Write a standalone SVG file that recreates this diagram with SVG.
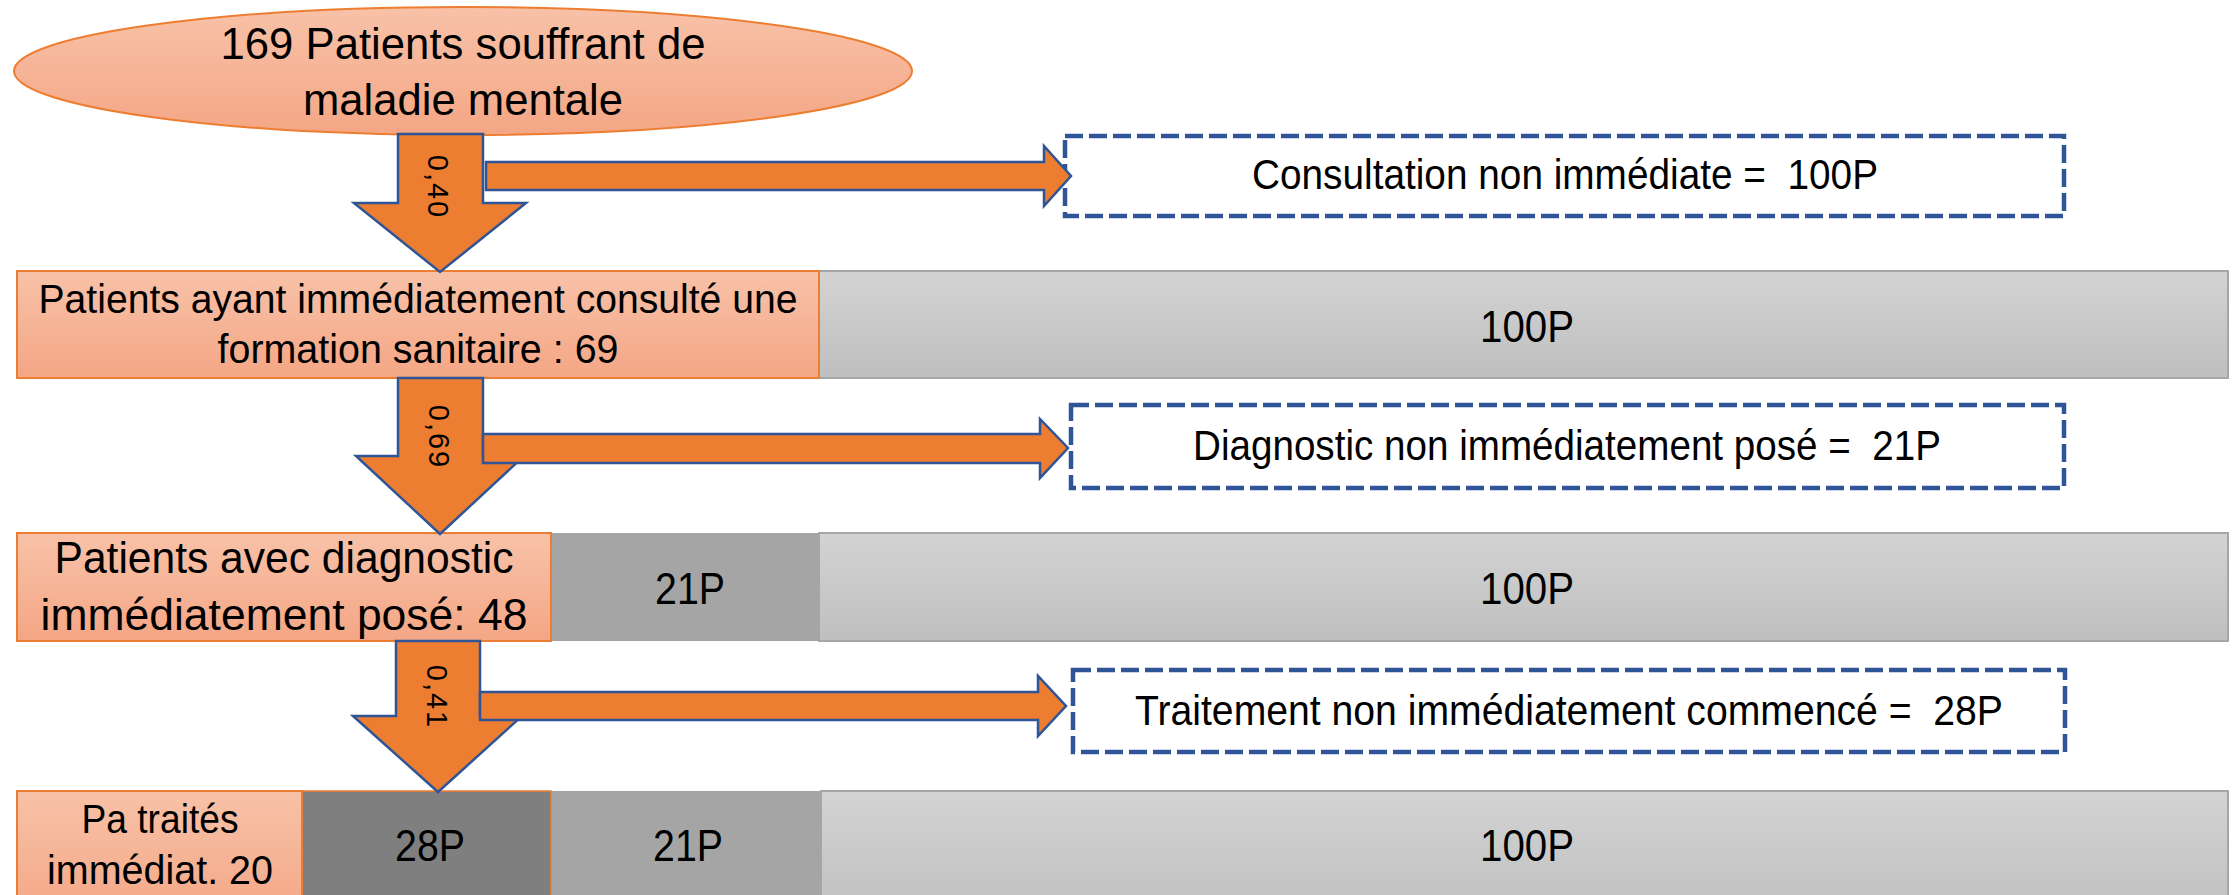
<svg xmlns="http://www.w3.org/2000/svg" width="2234" height="895" viewBox="0 0 2234 895">
<defs>
<linearGradient id="gOr" x1="0" y1="0" x2="0" y2="1">
<stop offset="0" stop-color="#F8C2A8"/>
<stop offset="1" stop-color="#F4A685"/>
</linearGradient>
<linearGradient id="gGr" x1="0" y1="0" x2="0" y2="1">
<stop offset="0" stop-color="#D3D3D3"/>
<stop offset="1" stop-color="#BFBFBF"/>
</linearGradient>
<style>
text{font-family:"Liberation Sans",Arial,sans-serif;fill:#000;text-anchor:middle}
.or{fill:url(#gOr);stroke:#ED7D31;stroke-width:2}
.gr{fill:url(#gGr);stroke:#A6A6A6;stroke-width:2}
.g2{fill:#A5A5A5;stroke:none}
.g3{fill:#7F7F7F;stroke:#ED7D31;stroke-width:1.5}
.arr{fill:#ED7D31;stroke:#2F5597;stroke-width:2.5;stroke-linejoin:miter}
.dash{fill:#fff;stroke:#2F5597;stroke-width:4.5;stroke-dasharray:18 6}
.lab{font-size:29px;letter-spacing:2px;dominant-baseline:central}
.t40{font-size:40px}
.t44{font-size:44px}
.t42{font-size:42px}
</style>
</defs>

<g id="start">
<ellipse class="or" cx="463" cy="71" rx="449" ry="64"/>
<text class="t44" x="463" y="59" textLength="485" lengthAdjust="spacingAndGlyphs">169 Patients souffrant de</text>
<text class="t44" x="463" y="115" textLength="320" lengthAdjust="spacingAndGlyphs">maladie mentale</text>
</g>

<g id="row1">
<rect class="gr" x="819" y="271" width="1409" height="107"/>
<rect class="or" x="17" y="271" width="802" height="107"/>
<text class="t40" x="418" y="313" textLength="759" lengthAdjust="spacingAndGlyphs">Patients ayant immédiatement consulté une</text>
<text class="t40" x="418" y="363" textLength="401" lengthAdjust="spacingAndGlyphs">formation sanitaire : 69</text>
<text class="t44" x="1527" y="342" textLength="94" lengthAdjust="spacingAndGlyphs">100P</text>
</g>

<g id="row2">
<rect class="gr" x="819" y="533" width="1409" height="108"/>
<rect class="g2" x="551" y="533" width="268" height="108"/>
<rect class="or" x="17" y="533" width="534" height="108"/>
<text class="t44" x="284" y="573" textLength="459" lengthAdjust="spacingAndGlyphs">Patients avec diagnostic</text>
<text class="t44" x="284" y="630" textLength="487" lengthAdjust="spacingAndGlyphs">immédiatement posé: 48</text>
<text class="t44" x="690" y="604" textLength="70" lengthAdjust="spacingAndGlyphs">21P</text>
<text class="t44" x="1527" y="604" textLength="94" lengthAdjust="spacingAndGlyphs">100P</text>
</g>

<g id="row3">
<rect class="gr" x="821" y="791" width="1407" height="130"/>
<rect class="g2" x="551" y="791" width="270" height="130"/>
<rect class="g3" x="302" y="791" width="249" height="130"/>
<rect class="or" x="17" y="791" width="285" height="130"/>
<text class="t40" x="160" y="833" textLength="157" lengthAdjust="spacingAndGlyphs">Pa traités</text>
<text class="t40" x="160" y="884" textLength="226" lengthAdjust="spacingAndGlyphs">immédiat. 20</text>
<text class="t44" x="430" y="861" textLength="70" lengthAdjust="spacingAndGlyphs">28P</text>
<text class="t44" x="688" y="861" textLength="70" lengthAdjust="spacingAndGlyphs">21P</text>
<text class="t44" x="1527" y="861" textLength="94" lengthAdjust="spacingAndGlyphs">100P</text>
</g>

<g id="out1">
<rect class="dash" x="1065" y="136" width="999" height="80"/>
<text class="t42" x="1565" y="189" xml:space="preserve" textLength="626" lengthAdjust="spacingAndGlyphs">Consultation non immédiate =  100P</text>
</g>
<g id="out2">
<rect class="dash" x="1071" y="405" width="993" height="83"/>
<text class="t42" x="1567" y="460" xml:space="preserve" textLength="748" lengthAdjust="spacingAndGlyphs">Diagnostic non immédiatement posé =  21P</text>
</g>
<g id="out3">
<rect class="dash" x="1073" y="670" width="992" height="82"/>
<text class="t42" x="1569" y="725" xml:space="preserve" textLength="868" lengthAdjust="spacingAndGlyphs">Traitement non immédiatement commencé =  28P</text>
</g>

<g id="connectors">
<path class="arr" d="M398,134 H483 V203 H526 L440,272 L354,203 H398 Z"/>
<path class="arr" d="M486,162 H1044 V146 L1071,176 L1044,206 V190 H486 Z"/>
<path class="arr" d="M398,378 H483 V456 H524 L440,534 L356,456 H398 Z"/>
<path class="arr" d="M483,434 H1040 V419 L1068,448 L1040,478 V463 H483 Z"/>
<path class="arr" d="M396,641 H480 V716 H522 L438,792 L353,716 H396 Z"/>
<path class="arr" d="M480,692 H1038 V676 L1066,706 L1038,736 V720 H480 Z"/>
<text class="lab" transform="translate(438,187) rotate(90)">0,40</text>
<text class="lab" transform="translate(439,437) rotate(90)">0,69</text>
<text class="lab" transform="translate(437,697) rotate(90)">0,41</text>
</g>
</svg>
